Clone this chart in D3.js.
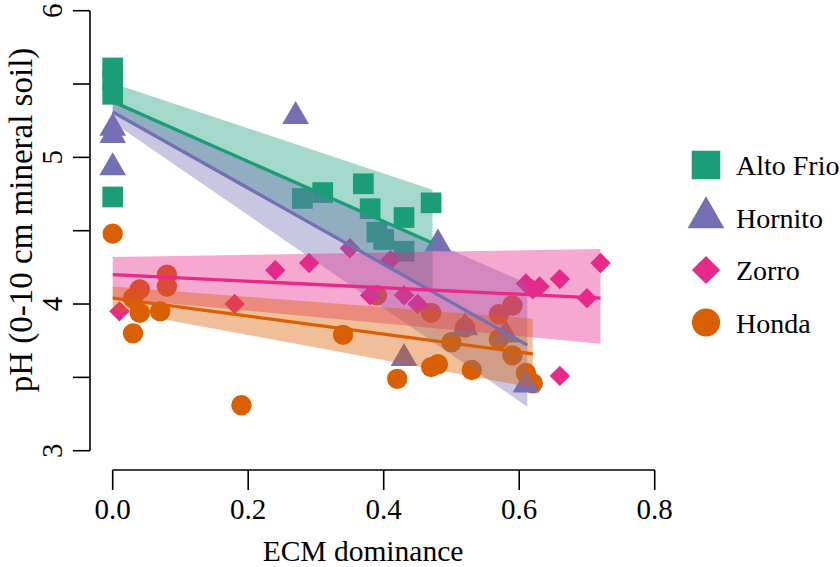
<!DOCTYPE html>
<html><head><meta charset="utf-8">
<script src="https://cdn.jsdelivr.net/npm/d3@7"></script>
<style>html,body{margin:0;padding:0;background:#fff}svg{display:block}text{font-family:"Liberation Serif","Times New Roman",serif;fill:#000}</style>
</head><body>
<script>
// ---- data ----
const groups = ["Alto Frio", "Hornito", "Zorro", "Honda"];
const colors = ["#1B9E77", "#7570B3", "#E7298A", "#D95F02"];

const altoX = [0, 0, 0, 0, 0.28, 0.31, 0.37, 0.38, 0.39, 0.40, 0.43, 0.43, 0.47];
const altoY = [5.61, 5.53, 5.43, 4.73, 4.72, 4.76, 4.82, 4.65, 4.49, 4.44, 4.59, 4.36, 4.69];

const hornX = [0, 0, 0, 0.27, 0.48, 0.43, 0.52, 0.58, 0.61];
const hornY = [5.20, 5.15, 4.93, 5.28, 4.41, 3.63, 3.84, 3.79, 3.45];

const zorrX = [0.01, 0.18, 0.24, 0.29, 0.35, 0.41, 0.38, 0.43, 0.45, 0.61, 0.62, 0.63, 0.66, 0.72, 0.70, 0.66];
const zorrY = [3.95, 4.00, 4.23, 4.28, 4.38, 4.30, 4.06, 4.06, 4.00, 4.14, 4.10, 4.12, 4.17, 4.28, 4.04, 3.51];

const hondX = [0, 0.08, 0.08, 0.04, 0.03, 0.04, 0.07, 0.03, 0.19, 0.34, 0.39, 0.47, 0.42, 0.47, 0.48, 0.50, 0.53, 0.57, 0.59, 0.57, 0.59, 0.61, 0.62, 0.52];
const hondY = [4.48, 4.20, 4.12, 4.10, 4.04, 3.94, 3.95, 3.80, 3.31, 3.79, 4.06, 3.94, 3.49, 3.57, 3.59, 3.74, 3.55, 3.93, 3.99, 3.76, 3.65, 3.53, 3.46, 3.84];

// fitted lines and confidence bands: value at start / end of each group's x-range
const fitXStart = [0, 0, 0, 0];
const fitXEnd   = [0.472, 0.612, 0.72, 0.62];
const fitStart  = [5.38, 5.31, 4.20, 4.04];
const fitEnd    = [4.416, 3.72, 4.04, 3.66];
const lowStart  = [5.296, 5.24, 4.04, 3.96];
const lowEnd    = [4.075, 3.30, 3.73, 3.43];
const upStart   = [5.505, 5.38, 4.32, 4.12];
const upEnd     = [4.78, 4.14, 4.375, 3.90];

const xTicks = [0, 0.2, 0.4, 0.6, 0.8];
const xTickLabels = ["0.0", "0.2", "0.4", "0.6", "0.8"];
const yTicks = [3, 3.5, 4, 4.5, 5, 5.5, 6];
const yTickLabels = ["3", "", "4", "", "5", "", "6"];

// ---- drawing ----
const W = 840, H = 567;
const svg = d3.select("body").append("svg").attr("width", W).attr("height", H);
const x = d3.scaleLinear().domain([0, 0.8]).range([112.7, 654.7]);
const y = d3.scaleLinear().domain([3, 6]).range([450.7, 10.7]);

const pts = [
  {xs: altoX, ys: altoY, g: 0},
  {xs: hornX, ys: hornY, g: 1},
  {xs: zorrX, ys: zorrY, g: 2},
  {xs: hondX, ys: hondY, g: 3}
];

function marker(sel, g, s) {
  if (g === 0) {
    const a = 20.7 * s;
    sel.append("rect").attr("x", -a/2).attr("y", -a/2).attr("width", a).attr("height", a).attr("fill", colors[0]);
  } else if (g === 1) {
    const r = 15.4 * s, xc = 13.35 * s, yc = 7.7 * s;
    sel.append("path").attr("d", `M0,${-r}L${xc},${yc}L${-xc},${yc}Z`).attr("fill", colors[1]);
  } else if (g === 2) {
    const d = 10.2 * s;
    sel.append("path").attr("d", `M0,${-d}L${d},0L0,${d}L${-d},0Z`).attr("fill", colors[2]);
  } else {
    sel.append("circle").attr("r", 10.2 * s).attr("fill", colors[3]);
  }
}

// points (drawn first, bands overlay them)
const order = [3, 0, 1, 2];
const pLayer = svg.append("g");
order.forEach(gi => {
  const p = pts[gi];
  p.xs.forEach((xv, i) => {
    const gg = pLayer.append("g").attr("transform", `translate(${x(xv)},${y(p.ys[i])})`);
    marker(gg, p.g, 1);
  });
});

// bands
const bLayer = svg.append("g");
groups.forEach((g, i) => {
  const poly = [
    [x(fitXStart[i]), y(upStart[i])],
    [x(fitXEnd[i]), y(upEnd[i])],
    [x(fitXEnd[i]), y(lowEnd[i])],
    [x(fitXStart[i]), y(lowStart[i])]
  ];
  bLayer.append("path").attr("d", d3.line()(poly) + "Z").attr("fill", colors[i]).attr("fill-opacity", 0.4);
});

// fit lines
const lLayer = svg.append("g");
groups.forEach((g, i) => {
  lLayer.append("line")
    .attr("x1", x(fitXStart[i])).attr("y1", y(fitStart[i]))
    .attr("x2", x(fitXEnd[i])).attr("y2", y(fitEnd[i]))
    .attr("stroke", colors[i]).attr("stroke-width", 3.3);
});

// axes
const ax = svg.append("g");
const sw = 1.6;
ax.append("line").attr("x1", x(0)).attr("x2", x(0.8)).attr("y1", 470).attr("y2", 470).attr("stroke", "#000").attr("stroke-width", sw);
xTicks.forEach((t, i) => {
  ax.append("line").attr("x1", x(t)).attr("x2", x(t)).attr("y1", 470).attr("y2", 490).attr("stroke", "#000").attr("stroke-width", sw);
  ax.append("text").attr("x", x(t)).attr("y", 519).attr("text-anchor", "middle").attr("font-size", 29).text(xTickLabels[i]);
});
ax.append("line").attr("x1", 90).attr("x2", 90).attr("y1", y(3)).attr("y2", y(6)).attr("stroke", "#000").attr("stroke-width", sw);
yTicks.forEach((t, i) => {
  ax.append("line").attr("x1", 73).attr("x2", 90).attr("y1", y(t)).attr("y2", y(t)).attr("stroke", "#000").attr("stroke-width", sw);
  if (yTickLabels[i]) {
    ax.append("text").attr("transform", `translate(62,${y(t)}) rotate(-90)`).attr("text-anchor", "middle").attr("font-size", 29).text(yTickLabels[i]);
  }
});
ax.append("text").attr("x", 363).attr("y", 561).attr("text-anchor", "middle").attr("font-size", 29.5).text("ECM dominance");
ax.append("text").attr("transform", `translate(32,220) rotate(-90)`).attr("text-anchor", "middle").attr("font-size", 33).text("pH (0-10 cm mineral soil)");

// legend
const lg = svg.append("g");
groups.forEach((g, i) => {
  const cy = 165 + i * 52.5;
  const m = lg.append("g").attr("transform", `translate(706,${cy})`);
  marker(m, i, 1.38);
  lg.append("text").attr("x", 736).attr("y", cy + 10).attr("font-size", 28).text(g);
});
</script>
</body></html>
